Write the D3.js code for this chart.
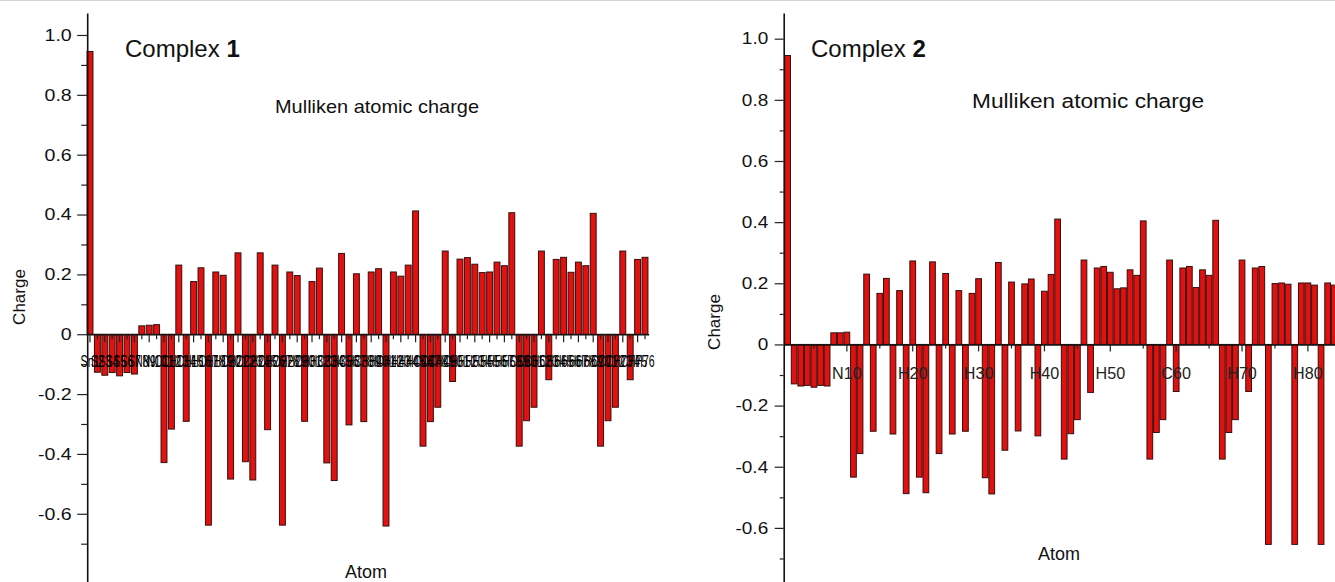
<!DOCTYPE html>
<html>
<head>
<meta charset="utf-8">
<title>Mulliken atomic charge</title>
<script src="https://cdn.jsdelivr.net/npm/d3@7"></script>
<style>
    * {
        margin: 0;
        padding: 0;
    }
    body { background: #fff; }
    svg { display: block; font-family: "Liberation Sans", Arial, sans-serif; }
</style>
</head>
<body>
<svg id="chart" width="1335" height="582"></svg>
<script>
// Complex 1 - atom symbols (numbered by position) and charges
var atoms1 = (
    "Sn S S S S S S N N N " +
    "C C H C H H O H H C " +
    "H C C H C H O H H C " +
    "H H C C H C H C H H " +
    "O H H H H C C C H C " +
    "H H H H H H H H C C " +
    "C H C H H H H H H C " +
    "C C H C H H").split(" ");
var charge1 = [
    0.945, -0.127, -0.137, -0.128, -0.139, -0.128, -0.133, 0.028, 0.030, 0.032,
    -0.429, -0.317, 0.231, -0.291, 0.176, 0.222, -0.638, 0.208, 0.197, -0.484,
    0.272, -0.426, -0.487, 0.272, -0.319, 0.231, -0.638, 0.208, 0.196, -0.291,
    0.176, 0.221, -0.430, -0.489, 0.270, -0.303, 0.202, -0.292, 0.208, 0.219,
    -0.641, 0.208, 0.194, 0.231, 0.412, -0.374, -0.292, -0.244, 0.278, -0.158,
    0.251, 0.256, 0.234, 0.206, 0.208, 0.241, 0.229, 0.406, -0.374, -0.289,
    -0.244, 0.278, -0.152, 0.250, 0.257, 0.207, 0.241, 0.229, 0.404, -0.374,
    -0.289, -0.244, 0.278, -0.152, 0.250, 0.257
];

// Complex 2
var atoms2 = (
    "Sn S S S S S S N N N " +
    "C C H C H H C H C H " +
    "C C H C H C H C H H " +
    "C C H C H C H H C H " +
    "H H C C C H C H H H " +
    "H H H H H C C C H C " +
    "H H H H H H C C C H " +
    "C H H O H H H O H H " +
    "H O H H").split(" ");
var charge2 = [
    0.945, -0.129, -0.136, -0.134, -0.140, -0.134, -0.136, 0.038, 0.038, 0.040,
    -0.434, -0.357, 0.230, -0.284, 0.167, 0.216, -0.293, 0.176, -0.488, 0.273,
    -0.434, -0.485, 0.270, -0.357, 0.232, -0.293, 0.176, -0.284, 0.167, 0.215,
    -0.436, -0.489, 0.268, -0.346, 0.204, -0.283, 0.198, 0.214, -0.299, 0.174,
    0.229, 0.410, -0.375, -0.292, -0.246, 0.276, -0.157, 0.250, 0.255, 0.236,
    0.182, 0.185, 0.244, 0.226, 0.404, -0.375, -0.288, -0.246, 0.276, -0.154,
    0.250, 0.255, 0.186, 0.244, 0.226, 0.406, -0.375, -0.288, -0.246, 0.276,
    -0.154, 0.250, 0.255, -0.654, 0.199, 0.201, 0.197, -0.654, 0.201, 0.201,
    0.194, -0.654, 0.201, 0.194
];

// axis ticks
var yTicks = [-0.6, -0.4, -0.2, 0, 0.2, 0.4, 0.6, 0.8, 1.0];
var yMinor = [-0.7, -0.5, -0.3, -0.1, 0.1, 0.3, 0.5, 0.7, 0.9];
var atomTicks2 = [10, 20, 30, 40, 50, 60, 70, 80];
var atomMinor2 = [5, 15, 25, 35, 45, 55, 65, 75];

var svg = d3.select("#chart");

// faint page border at the top
svg.append("line")
    .attr("x1", 0).attr("x2", 1335)
    .attr("y1", 0.5).attr("y2", 0.5)
    .attr("stroke", "#d4d4d4");

function fmt(d) {
    return d === 0 ? "0" : d.toFixed(1);
}

// stretch / squeeze text horizontally (source image is not 1:1)
function squeeze(sel, k) {
    sel.each(function() {
        var w = this.getComputedTextLength();
        d3.select(this)
            .attr("textLength", w * k)
            .attr("lengthAdjust", "spacingAndGlyphs");
    });
}

function panel(o) {
    var g = svg.append("g");
    var names = o.atoms.map(function(a, i) { return a + (i + 1); });

    var x = d3.scaleBand()
        .domain(names)
        .range([o.left, o.left + names.length * o.step])
        .paddingInner(o.pad)
        .paddingOuter(o.pad / 2);

    var y = d3.scaleLinear()
        .domain(o.yDomain)
        .range([582, 13]);

    // bars
    g.selectAll(".bar")
        .data(o.charge)
        .enter().append("rect")
        .attr("class", "bar")
        .attr("x", function(d, i) { return x(names[i]); })
        .attr("width", x.bandwidth())
        .attr("y", function(d) { return y(Math.max(0, d)); })
        .attr("height", function(d) { return Math.abs(y(d) - y(0)); })
        .attr("fill", "#e0110e")
        .attr("stroke", "#331010")
        .attr("stroke-width", 1);

    // x axis
    var xg = g.append("g")
        .attr("transform", "translate(0," + y(0) + ")");
    if (o.every) {
        xg.call(d3.axisBottom(x)
            .tickValues(o.every.map(function(n) { return names[n - 1]; }))
            .tickSize(7).tickSizeOuter(0));
        g.append("g")
            .attr("transform", "translate(0," + y(0) + ")")
            .call(d3.axisBottom(x)
                .tickValues(o.minorEvery.map(function(n) { return names[n - 1]; }))
                .tickSize(4).tickFormat(""))
            .call(function(s) { s.select(".domain").remove(); })
            .selectAll("line").attr("stroke", "#222").attr("stroke-width", 1.2);
    } else {
        xg.call(d3.axisBottom(x).tickSize(8).tickSizeOuter(0));
        xg.selectAll(".tick line")
            .attr("y2", function(d, i) { return i % 2 ? 5 : 8; });
    }
    xg.select(".domain").attr("stroke", "#111").attr("stroke-width", 1.6);
    xg.selectAll(".tick line").attr("stroke", "#222").attr("stroke-width", 1.2);
    xg.selectAll(".tick text")
        .attr("y", o.xLabelY)
        .attr("dy", 0)
        .attr("fill", o.xColor)
        .style("font-family", "'Liberation Sans', Arial, sans-serif")
        .style("font-size", o.xFont + "px")
        .call(squeeze, o.xSqueeze);

    // y axis
    var yg = g.append("g")
        .attr("transform", "translate(" + o.axisX + ",0)")
        .call(d3.axisLeft(y).tickValues(yTicks).tickFormat(fmt)
            .tickSize(o.major).tickSizeOuter(0).tickPadding(o.yPad));
    yg.select(".domain").attr("stroke", "#111").attr("stroke-width", 1.6);
    yg.selectAll(".tick line").attr("stroke", "#222").attr("stroke-width", 1.2);
    yg.selectAll(".tick text")
        .attr("fill", "#111")
        .style("font-family", "'Liberation Sans', Arial, sans-serif")
        .style("font-size", o.yFont + "px")
        .call(squeeze, 1.15);

    g.append("g")
        .attr("transform", "translate(" + o.axisX + ",0)")
        .call(d3.axisLeft(y).tickValues(yMinor).tickFormat("").tickSize(o.minor))
        .call(function(s) { s.select(".domain").remove(); })
        .selectAll("line").attr("stroke", "#222").attr("stroke-width", 1.2);

    // titles
    var t = g.append("text")
        .attr("x", o.titleX).attr("y", 57)
        .style("font-size", "24px")
        .attr("fill", "#111");
    t.append("tspan").text("Complex ");
    t.append("tspan").style("font-weight", "bold").text(o.num);

    g.append("text")
        .attr("x", o.subX).attr("y", o.subY)
        .style("font-size", o.subFont + "px")
        .attr("fill", "#111")
        .attr("textLength", o.subW)
        .attr("lengthAdjust", "spacingAndGlyphs")
        .text("Mulliken atomic charge");

    g.append("text")
        .attr("x", o.atomX).attr("y", o.atomY)
        .attr("text-anchor", "middle")
        .style("font-size", "18px")
        .attr("fill", "#111")
        .text("Atom");

    g.append("text")
        .attr("transform", "translate(" + o.chargeX + "," + o.chargeY + ") rotate(-90)")
        .attr("text-anchor", "middle")
        .style("font-size", "17px")
        .attr("fill", "#111")
        .text("Charge");
}

panel({
    atoms: atoms1, charge: charge1, num: "1",
    left: 86.3, step: 7.4, pad: 0.2,
    yDomain: [-0.828, 1.0735], axisX: 87.2,
    major: 10, minor: 6, yPad: 5.5, yFont: 17,
    xLabelY: 33, xFont: 17, xSqueeze: 0.62, xColor: "#000",
    titleX: 125, subX: 275, subY: 113, subFont: 18.5, subW: 204,
    atomX: 366, atomY: 578, chargeX: 25, chargeY: 297
});

panel({
    atoms: atoms2, charge: charge2, num: "2",
    left: 784.3, step: 6.586, pad: 0.13,
    yDomain: [-0.777, 1.084], axisX: 783.7,
    major: 9, minor: 4, yPad: 6.5, yFont: 16.5,
    every: atomTicks2, minorEvery: atomMinor2,
    xLabelY: 35, xFont: 17, xSqueeze: 0.95, xColor: "#222",
    titleX: 811, subX: 972, subY: 108, subFont: 19.5, subW: 232,
    atomX: 1059, atomY: 560, chargeX: 720, chargeY: 322
});
</script>
</body>
</html>
